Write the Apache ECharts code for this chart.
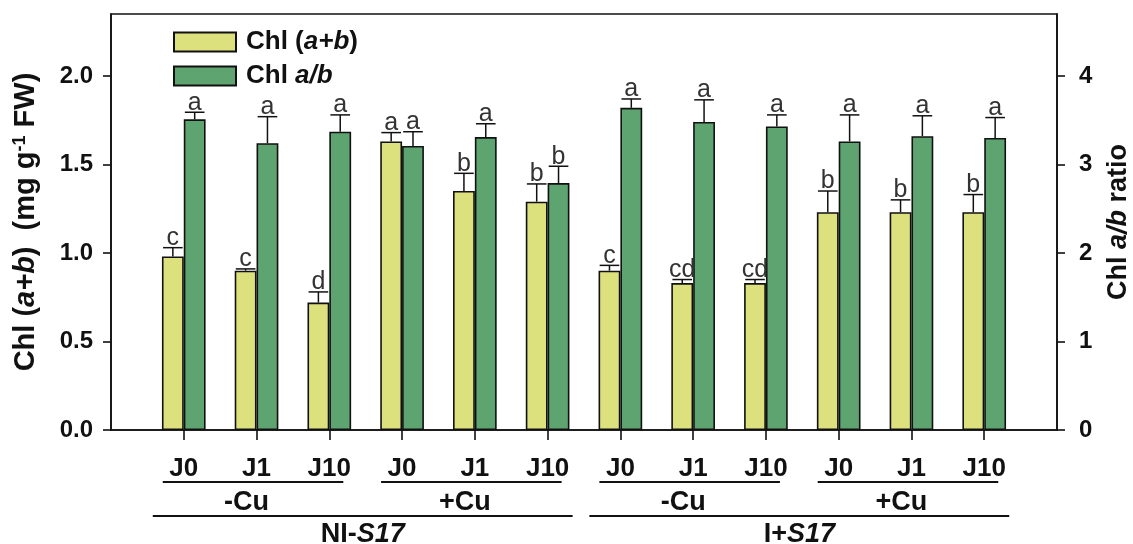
<!DOCTYPE html>
<html><head><meta charset="utf-8">
<script src="https://cdn.jsdelivr.net/npm/echarts@6/dist/echarts.min.js"></script>
<style>html,body{margin:0;padding:0;background:#fff}#c{width:1133px;height:544px}</style>
</head><body><div id="c"></div>
<script>
const categories = ['J0','J1','J10','J0','J1','J10','J0','J1','J10','J0','J1','J10'];
const chlAB = [0.98,0.90,0.72,1.63,1.35,1.29,0.90,0.83,0.83,1.23,1.23,1.23];
const chlABErr = [0.05,0.01,0.06,0.05,0.10,0.10,0.03,0.02,0.02,0.12,0.07,0.10];
const chlABLetters = ['c','c','d','a','b','b','c','cd','cd','b','b','b'];
const ratio = [3.51,3.24,3.37,3.21,3.31,2.79,3.64,3.48,3.43,3.26,3.32,3.30];
const ratioErr = [0.08,0.30,0.19,0.16,0.15,0.19,0.10,0.25,0.13,0.30,0.23,0.23];
const ratioLetters = ['a','a','a','a','a','b','a','a','a','a','a','a'];
const cuGroups = [['-Cu',0,2],['+Cu',3,5],['-Cu',6,8],['+Cu',9,11]];
const strainGroups = [['NI-','S17',0,5],['I+','S17',6,11]];
const leftTicks = [0,0.5,1,1.5,2];
const rightTicks = [0,1,2,3,4];

const FONT = 'Liberation Sans, Arial, Helvetica, sans-serif';
const INK = '#111';
const YELLOW = '#dce17e';
const GREEN = '#5ea470';

const xCats = [''].concat(categories, ['']);
const chart = echarts.init(document.getElementById('c'), null, {renderer:'canvas'});

function errSeries(vals, errs, letters, yIdx, side) {
  return {
    type:'custom', yAxisIndex:yIdx, silent:true, z:5,
    data: vals.map((v,i)=>[i+1, v, errs[i]]),
    encode:{x:0, y:1},
    renderItem(params, api){
      const xv = api.value(0), v = api.value(1), e = api.value(2);
      const bw = api.size([1,0])[0]*0.3;
      const base = api.coord([xv, v]);
      const top = api.coord([xv, v+e]);
      const cx = base[0] + side*bw/2;
      const half = bw*0.45;
      const ls = {stroke:INK, lineWidth:1.5};
      return {type:'group', children:[
        {type:'line', shape:{x1:cx, y1:base[1], x2:cx, y2:top[1]}, style:ls},
        {type:'line', shape:{x1:cx-half, y1:top[1], x2:cx+half, y2:top[1]}, style:ls},
        {type:'text', style:{text:letters[params.dataIndex], x:cx, y:top[1]+3,
          align:'center', verticalAlign:'bottom', fontSize:25, fontFamily:FONT, fill:'#333'}}
      ]};
    }
  };
}

function richName(size) {
  return {
    n:{fontSize:size, fontWeight:'bold', fontFamily:FONT, color:INK},
    i:{fontSize:size, fontWeight:'bold', fontStyle:'italic', fontFamily:FONT, color:INK},
    s:{fontSize:Math.round(size*0.62), fontWeight:'bold', fontFamily:FONT, color:INK, verticalAlign:'top', padding:[0,0,Math.round(size*0.4),0]}
  };
}
const axisLineStyle = {color:INK, width:1.6};

const option = {
  animation:false,
  backgroundColor:'#fff',
  grid:{left:111, right:76, top:14, bottom:114, show:true, borderColor:INK, borderWidth:1.6,
    backgroundColor:'transparent', outerBoundsMode:'none', containLabel:false},
  legend:{
    left:168, top:24, orient:'vertical', itemWidth:62, itemHeight:19, itemGap:8,
    icon:'rect',
    formatter: name => name === 'Chl (a+b)' ? '{n|Chl (}{i|a+b}{n|)}' : '{n|Chl }{i|a/b}',
    textStyle:{padding:[0,0,0,5], rich:{
      n:{fontSize:26, fontWeight:'bold', fontFamily:FONT, color:INK},
      i:{fontSize:26, fontWeight:'bold', fontStyle:'italic', fontFamily:FONT, color:INK}}},
    data:['Chl (a+b)','Chl a/b']
  },
  xAxis:{
    type:'category', data:xCats, boundaryGap:false,
    axisLine:{lineStyle:axisLineStyle},
    axisTick:{length:10, interval:(i,v)=>v!=='', lineStyle:axisLineStyle},
    axisLabel:{interval:0, margin:26, fontSize:26, fontWeight:'bold', fontFamily:FONT, color:INK},
    splitLine:{show:false}
  },
  yAxis:[
    {type:'value', min:0, max:2.35, position:'left',
      splitLine:{show:false},
      axisLine:{show:true, lineStyle:axisLineStyle},
      axisTick:{show:true, length:8, customValues:leftTicks, lineStyle:axisLineStyle},
      axisLabel:{customValues:leftTicks, formatter:v=>Number(v).toFixed(1), margin:18, fontSize:24, fontWeight:'bold', fontFamily:FONT, color:INK},
      name:'{n|Chl (}{i|a+b}{n|)  (mg g}{s|-1}{n| FW)}', nameLocation:'middle', nameRotate:90, nameGap:70,
      nameTextStyle:{rich:richName(29)}
    },
    {type:'value', min:0, max:4.7, position:'right',
      splitLine:{show:false},
      axisLine:{show:true, lineStyle:axisLineStyle},
      axisTick:{show:true, length:8, customValues:rightTicks, lineStyle:axisLineStyle},
      axisLabel:{customValues:rightTicks, formatter:v=>String(v), margin:22, fontSize:24, fontWeight:'bold', fontFamily:FONT, color:INK},
      name:'{n|Chl }{i|a/b}{n| ratio}', nameLocation:'middle', nameRotate:90, nameGap:48,
      nameTextStyle:{rich:richName(27)}
    }
  ],
  series:[
    {type:'bar', name:'Chl (a+b)', yAxisIndex:0, data:chlAB.map((v,i)=>[i+1,v]),
      barWidth:'30%', barGap:'0%', itemStyle:{color:YELLOW, borderColor:INK, borderWidth:1.6}},
    {type:'bar', name:'Chl a/b', yAxisIndex:1, data:ratio.map((v,i)=>[i+1,v]),
      barWidth:'30%', barGap:'0%', itemStyle:{color:GREEN, borderColor:INK, borderWidth:1.6}},
    errSeries(chlAB, chlABErr, chlABLetters, 0, -1),
    errSeries(ratio, ratioErr, ratioLetters, 1, 1)
  ]
};
chart.setOption(option);

// grouping annotations below the category axis
const px = i => chart.convertToPixel({xAxisIndex:0}, i+1);
const y0 = chart.convertToPixel({yAxisIndex:0}, 0);
const elems = [];
cuGroups.forEach(([lab,a,b])=>{
  elems.push({type:'line', shape:{x1:px(a)-21, y1:y0+52, x2:px(b)+14, y2:y0+52}, style:{stroke:INK, lineWidth:2}});
  elems.push({type:'text', style:{text:lab, x:(px(a)+px(b))/2-10, y:y0+73, align:'center', verticalAlign:'middle',
    fontSize:27, fontWeight:'bold', fontFamily:FONT, fill:INK}});
});
strainGroups.forEach(([pre,it,a,b])=>{
  const x1 = px(a)-31, x2 = px(b)+25;
  elems.push({type:'line', shape:{x1:x1, y1:y0+86, x2:x2, y2:y0+86}, style:{stroke:INK, lineWidth:2}});
  elems.push({type:'text', style:{text:'{n|'+pre+'}{i|'+it+'}', x:(x1+x2)/2, y:y0+105, align:'center', verticalAlign:'middle',
    rich:{n:{fontSize:27, fontWeight:'bold', fontFamily:FONT, fill:INK}, i:{fontSize:27, fontWeight:'bold', fontStyle:'italic', fontFamily:FONT, fill:INK}}}});
});
chart.setOption({graphic:{elements:elems}});
</script>
</body></html>
